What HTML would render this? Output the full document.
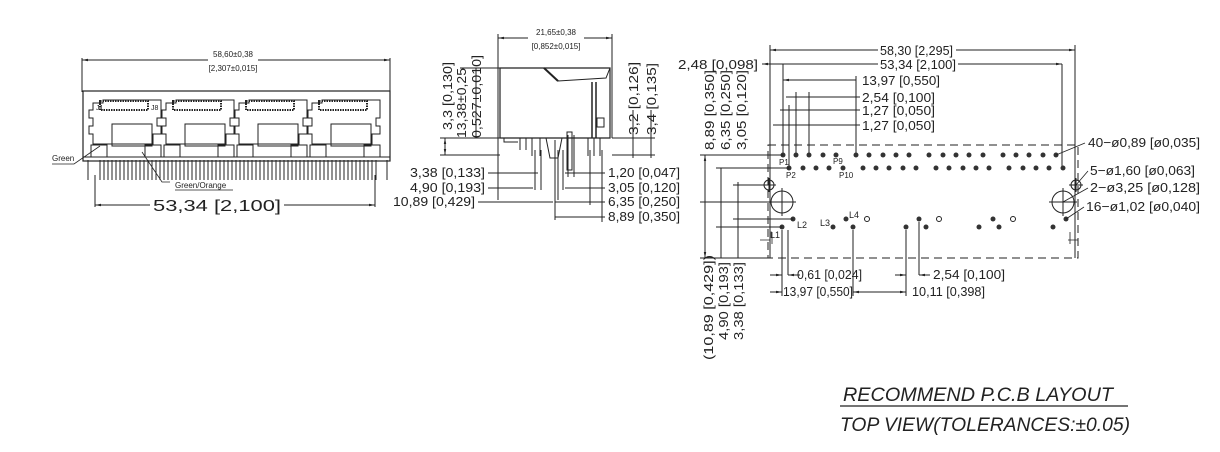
<!DOCTYPE html>
<html><head><meta charset="utf-8"><style>
html,body{margin:0;padding:0;background:#fff;}
svg{display:block;}
text{font-family:"Liberation Sans",sans-serif;fill:#222;}
.d{font-size:13px;}
.s{font-size:8px;}
</style></head><body>
<svg width="1220" height="452" viewBox="0 0 1220 452" xmlns="http://www.w3.org/2000/svg" stroke="#222" fill="none" stroke-width="1">
<defs>
<marker id="a" viewBox="0 0 10 10" refX="10" refY="5" markerWidth="6" markerHeight="6" orient="auto-start-reverse"><path d="M0,3 L10,5 L0,7z" fill="#222" stroke="none"/></marker>
</defs>
<!-- LEFT VIEW -->
<line x1="82" y1="58" x2="82" y2="92"/><line x1="390" y1="58" x2="390" y2="92"/>
<line x1="82" y1="60" x2="208" y2="60" marker-start="url(#a)"/><line x1="258" y1="60" x2="390" y2="60" marker-end="url(#a)"/>
<text class="s" x="233" y="57" text-anchor="middle" stroke="none">58,60±0,38</text>
<text class="s" x="233" y="71" text-anchor="middle" stroke="none">[2,307±0,015]</text>
<rect x="83" y="91" width="307" height="70" stroke-width="1.2"/>
<g stroke-width="1">
<g id="jack">
<path d="M93,103 h10 v-3 h58 v3 h0 v15 h-4 v8 h4 v8 h-8 v10 h-60 v-10 h-4 v-8 h4 v-8 h-4 v-8 h4z"/>
<rect x="112" y="124" width="40" height="22"/>
<rect x="100" y="101" width="48" height="9" stroke-width="2" stroke-dasharray="1.5,1"/>
<rect x="91" y="145" width="16" height="12"/><rect x="145" y="145" width="16" height="12"/>
</g>
<use href="#jack" x="73"/><use href="#jack" x="146"/><use href="#jack" x="219"/>
</g>
<text x="96" y="110" stroke="none" font-size="7">J1</text><text x="151" y="110" stroke="none" font-size="7">J8</text>
<path d="M83,157 h307" />
<g stroke-width="1">
<path d="M88,160 v20 M387,160 v20"/>
<path d="M100,160 v20 M104,160 v20 M108,160 v20 M112,160 v20 M116,160 v20 M120,160 v20 M124,160 v20 M128,160 v20 M132,160 v20 M136,160 v20 M140,160 v20 M144,160 v20 M148,160 v20 M152,160 v20 M156,160 v20 M160,160 v20 M164,160 v20 M168,160 v20 M172,160 v20 M176,160 v20 M180,160 v20 M184,160 v20 M188,160 v20 M192,160 v20 M196,160 v20 M200,160 v20 M204,160 v20 M208,160 v20 M212,160 v20 M216,160 v20 M220,160 v20 M224,160 v20 M228,160 v20 M232,160 v20 M236,160 v20 M240,160 v20 M244,160 v20 M248,160 v20 M252,160 v20 M256,160 v20 M260,160 v20 M264,160 v20 M268,160 v20 M272,160 v20 M276,160 v20 M280,160 v20 M284,160 v20 M288,160 v20 M292,160 v20 M296,160 v20 M300,160 v20 M304,160 v20 M308,160 v20 M312,160 v20 M316,160 v20 M320,160 v20 M324,160 v20 M328,160 v20 M332,160 v20 M336,160 v20 M340,160 v20 M344,160 v20 M348,160 v20 M352,160 v20 M356,160 v20 M360,160 v20 M364,160 v20 M368,160 v20 M372,160 v20 M376,160 v20"/>
</g>
<line x1="95" y1="175" x2="95" y2="207"/><line x1="375" y1="175" x2="375" y2="207"/>
<line x1="95" y1="205" x2="150" y2="205" marker-start="url(#a)"/><line x1="284" y1="205" x2="375" y2="205" marker-end="url(#a)"/>
<text x="153" y="211" stroke="none" font-size="16" textLength="128" lengthAdjust="spacingAndGlyphs">53,34 [2,100]</text>
<path d="M52,164 h22 l26,-18" stroke-width="0.8"/><text x="52" y="161" stroke="none" font-size="8">Green</text>
<path d="M170,182 h-8 l-20,-30" stroke-width="0.8"/><text x="175" y="188" stroke="none" font-size="8">Green/Orange</text>
<line x1="175" y1="190" x2="233" y2="190" stroke-width="0.8"/>

<!-- MIDDLE VIEW -->
<line x1="498" y1="34" x2="498" y2="200"/><line x1="612" y1="34" x2="612" y2="138"/>
<line x1="498" y1="38" x2="528" y2="38" marker-start="url(#a)"/><line x1="584" y1="38" x2="612" y2="38" marker-end="url(#a)"/>
<text class="s" x="556" y="35" text-anchor="middle" stroke="none">21,65±0,38</text>
<text class="s" x="556" y="49" text-anchor="middle" stroke="none">[0,852±0,015]</text>
<path d="M500,68 h110 v70 h-110z" stroke-width="1.2"/>
<path d="M500,68 l44,0 l14,13 l48,-3 l4,-10" />
<path d="M544,68 l14,13" stroke-width="2"/>
<path d="M592,82 v56 M596,82 v56" stroke-width="1.5"/>
<rect x="597" y="118" width="7" height="9"/>
<path d="M504,138 v4 h14 M520,138 v12 M526,138 v12 M532,138 v18 M540,138 v18 M546,138 l4,20 h8 l4,-20 M568,135 v42 M574,135 v42 M588,138 v18 M594,138 v18 M600,138 v18"/>
<rect x="567" y="132" width="5" height="38" stroke-width="1"/>
<line x1="440" y1="138" x2="500" y2="138"/><line x1="440" y1="155" x2="500" y2="155"/>
<line x1="460" y1="68" x2="500" y2="68"/>
<line x1="445" y1="138" x2="445" y2="155" marker-start="url(#a)" marker-end="url(#a)"/>
<g stroke="none" class="d">
<text transform="translate(452,130) rotate(-90)" textLength="68" lengthAdjust="spacingAndGlyphs">3,3 [0,130]</text>
<text transform="translate(466,138) rotate(-90)" textLength="70" lengthAdjust="spacingAndGlyphs">13,38±0,25</text>
<text transform="translate(481,138) rotate(-90)" textLength="83" lengthAdjust="spacingAndGlyphs">0,527±0,010]</text>
</g>
<line x1="476" y1="68" x2="476" y2="138"/>
<line x1="612" y1="138" x2="655" y2="138"/><line x1="612" y1="155" x2="655" y2="155"/>
<line x1="633" y1="110" x2="633" y2="158" /><line x1="651" y1="110" x2="651" y2="158"/>
<g stroke="none" class="d">
<text transform="translate(638,135) rotate(-90)" textLength="73" lengthAdjust="spacingAndGlyphs">3,2 [0,126]</text>
<text transform="translate(656,135) rotate(-90)" textLength="72" lengthAdjust="spacingAndGlyphs">3,4 [0,135]</text>
</g>
<line x1="535" y1="150" x2="535" y2="190"/><line x1="541" y1="150" x2="541" y2="190"/><line x1="555" y1="140" x2="555" y2="220"/><line x1="558" y1="150" x2="558" y2="200"/><line x1="563" y1="150" x2="563" y2="190"/><line x1="590" y1="150" x2="590" y2="205"/><line x1="602" y1="150" x2="602" y2="222"/>
<g stroke="none" class="d">
<text x="410" y="177" textLength="75" lengthAdjust="spacingAndGlyphs">3,38 [0,133]</text>
<text x="410" y="192" textLength="75" lengthAdjust="spacingAndGlyphs">4,90 [0,193]</text>
<text x="393" y="206" textLength="82" lengthAdjust="spacingAndGlyphs">10,89 [0,429]</text>
<text x="608" y="177" textLength="72" lengthAdjust="spacingAndGlyphs">1,20 [0,047]</text>
<text x="608" y="192" textLength="72" lengthAdjust="spacingAndGlyphs">3,05 [0,120]</text>
<text x="608" y="206" textLength="72" lengthAdjust="spacingAndGlyphs">6,35 [0,250]</text>
<text x="608" y="221" textLength="72" lengthAdjust="spacingAndGlyphs">8,89 [0,350]</text>
</g>
<path d="M488,173 h50 M488,188 h45 M478,202 h75 M605,173 h-40 M605,188 h-40 M605,202 h-50 M605,217 h-50"/>

<!-- RIGHT VIEW -->
<rect x="768" y="145" width="310" height="113" stroke-dasharray="8,5"/>
<line x1="770" y1="45" x2="770" y2="258"/><line x1="1075" y1="45" x2="1075" y2="258"/>
<line x1="770" y1="50" x2="878" y2="50" marker-start="url(#a)"/><line x1="956" y1="50" x2="1075" y2="50" marker-end="url(#a)"/>
<text class="d" x="880" y="55" stroke="none" textLength="73" lengthAdjust="spacingAndGlyphs">58,30 [2,295]</text>
<text class="d" x="678" y="69" stroke="none" textLength="80" lengthAdjust="spacingAndGlyphs">2,48 [0,098]</text>
<line x1="762" y1="64" x2="878" y2="64" marker-start="url(#a)"/><line x1="958" y1="64" x2="1062" y2="64" marker-end="url(#a)"/>
<text class="d" x="880" y="69" stroke="none" textLength="76" lengthAdjust="spacingAndGlyphs">53,34 [2,100]</text>
<line x1="783" y1="64" x2="783" y2="155"/><line x1="1062" y1="64" x2="1062" y2="168"/>
<line x1="783" y1="80" x2="856" y2="80" marker-start="url(#a)"/><line x1="856" y1="76" x2="856" y2="155"/>
<text class="d" x="862" y="85" stroke="none" textLength="78" lengthAdjust="spacingAndGlyphs">13,97 [0,550]</text>
<line x1="786" y1="97" x2="860" y2="97"/><line x1="796" y1="92" x2="796" y2="155"/><line x1="809" y1="92" x2="809" y2="155"/>
<text class="d" x="862" y="102" stroke="none" textLength="73" lengthAdjust="spacingAndGlyphs">2,54 [0,100]</text>
<line x1="780" y1="110" x2="860" y2="110"/><line x1="789" y1="105" x2="789" y2="168"/>
<text class="d" x="862" y="115" stroke="none" textLength="73" lengthAdjust="spacingAndGlyphs">1,27 [0,050]</text>
<line x1="773" y1="125" x2="860" y2="125"/>
<text class="d" x="862" y="130" stroke="none" textLength="73" lengthAdjust="spacingAndGlyphs">1,27 [0,050]</text>
<g fill="#333" stroke="none">
<circle cx="783" cy="155" r="2.5"/><circle cx="796" cy="155" r="2.5"/><circle cx="809" cy="155" r="2.5"/><circle cx="823" cy="155" r="2.5"/><circle cx="836" cy="155" r="2.5"/><circle cx="856" cy="155" r="2.5"/><circle cx="869" cy="155" r="2.5"/><circle cx="883" cy="155" r="2.5"/><circle cx="896" cy="155" r="2.5"/><circle cx="909" cy="155" r="2.5"/><circle cx="929" cy="155" r="2.5"/><circle cx="943" cy="155" r="2.5"/><circle cx="956" cy="155" r="2.5"/><circle cx="969" cy="155" r="2.5"/><circle cx="983" cy="155" r="2.5"/><circle cx="1003" cy="155" r="2.5"/><circle cx="1016" cy="155" r="2.5"/><circle cx="1029" cy="155" r="2.5"/><circle cx="1043" cy="155" r="2.5"/><circle cx="1056" cy="155" r="2.5"/>
<circle cx="789" cy="168" r="2.5"/><circle cx="803" cy="168" r="2.5"/><circle cx="816" cy="168" r="2.5"/><circle cx="829" cy="168" r="2.5"/><circle cx="843" cy="168" r="2.5"/><circle cx="863" cy="168" r="2.5"/><circle cx="876" cy="168" r="2.5"/><circle cx="889" cy="168" r="2.5"/><circle cx="903" cy="168" r="2.5"/><circle cx="916" cy="168" r="2.5"/><circle cx="936" cy="168" r="2.5"/><circle cx="949" cy="168" r="2.5"/><circle cx="963" cy="168" r="2.5"/><circle cx="976" cy="168" r="2.5"/><circle cx="989" cy="168" r="2.5"/><circle cx="1009" cy="168" r="2.5"/><circle cx="1023" cy="168" r="2.5"/><circle cx="1036" cy="168" r="2.5"/><circle cx="1049" cy="168" r="2.5"/><circle cx="1063" cy="168" r="2.5"/>
<circle cx="793" cy="219" r="2.5"/><circle cx="782" cy="227" r="2.5"/><circle cx="833" cy="227" r="2.5"/><circle cx="846" cy="219" r="2.5"/><circle cx="853" cy="227" r="2.5"/><circle cx="906" cy="227" r="2.5"/><circle cx="919" cy="219" r="2.5"/><circle cx="926" cy="227" r="2.5"/><circle cx="979" cy="227" r="2.5"/><circle cx="993" cy="219" r="2.5"/><circle cx="999" cy="227" r="2.5"/><circle cx="1053" cy="227" r="2.5"/><circle cx="1066" cy="219" r="2.5"/>
</g>
<circle cx="867" cy="219" r="2.5"/><circle cx="939" cy="219" r="2.5"/><circle cx="1013" cy="219" r="2.5"/>
<circle cx="769" cy="185" r="5"/><circle cx="1076" cy="185" r="5"/>
<path d="M762,185 h14 M769,178 v14 M1069,185 h14 M1076,178 v14"/>
<circle cx="782" cy="202" r="11"/><circle cx="1063" cy="202" r="11"/>
<path d="M768,202 h28 M782,188 v28 M1049,202 h28 M1063,188 v28"/>
<g stroke="none" font-size="8" fill="#666">
<text x="779" y="165">P1</text><text x="786" y="178">P2</text><text x="833" y="164">P9</text><text x="839" y="178">P10</text>
</g>
<g stroke="none" font-size="9">
<text x="797" y="228">L2</text><text x="770" y="238">L1</text><text x="820" y="226">L3</text><text x="849" y="218">L4</text>
</g>
<path d="M1085,143 l-29,12 M1088,171 l-12,14 M1088,188 l-25,14 M1084,207 l-18,12" stroke-width="0.8"/>
<g class="d" stroke="none">
<text x="1088" y="147" textLength="112" lengthAdjust="spacingAndGlyphs">40−ø0,89 [ø0,035]</text>
<text x="1090" y="175" textLength="105" lengthAdjust="spacingAndGlyphs">5−ø1,60 [ø0,063]</text>
<text x="1090" y="192" textLength="110" lengthAdjust="spacingAndGlyphs">2−ø3,25 [ø0,128]</text>
<text x="1086" y="211" textLength="114" lengthAdjust="spacingAndGlyphs">16−ø1,02 [ø0,040]</text>
</g>
<!-- left vertical dims right view -->
<line x1="705" y1="155" x2="705" y2="258" marker-start="url(#a)" marker-end="url(#a)"/>
<line x1="721" y1="168" x2="721" y2="258"/><line x1="738" y1="182" x2="738" y2="258"/>
<path d="M700,155 h83 M716,168 h73 M733,185 h36 M700,202 h68 M733,219 h60 M716,227 h66 M700,258 h68"/>
<g class="d" stroke="none">
<text transform="translate(714,150) rotate(-90)" textLength="80" lengthAdjust="spacingAndGlyphs">8,89 [0,350]</text>
<text transform="translate(730,150) rotate(-90)" textLength="80" lengthAdjust="spacingAndGlyphs">6,35 [0,250]</text>
<text transform="translate(746,150) rotate(-90)" textLength="80" lengthAdjust="spacingAndGlyphs">3,05 [0,120]</text>
<text transform="translate(713,360) rotate(-90)" textLength="105" lengthAdjust="spacingAndGlyphs">(10,89 [0,429])</text>
<text transform="translate(728,340) rotate(-90)" textLength="78" lengthAdjust="spacingAndGlyphs">4,90 [0,193]</text>
<text transform="translate(743,340) rotate(-90)" textLength="78" lengthAdjust="spacingAndGlyphs">3,38 [0,133]</text>
</g>
<line x1="782" y1="230" x2="782" y2="296"/><line x1="788" y1="230" x2="788" y2="275"/>
<line x1="770" y1="275" x2="782" y2="275" marker-end="url(#a)"/><line x1="800" y1="275" x2="788" y2="275" marker-end="url(#a)"/>
<text class="d" x="797" y="279" stroke="none" textLength="65" lengthAdjust="spacingAndGlyphs">0,61 [0,024]</text>
<line x1="906" y1="230" x2="906" y2="296"/><line x1="919" y1="222" x2="919" y2="275"/>
<line x1="895" y1="275" x2="906" y2="275" marker-end="url(#a)"/><line x1="930" y1="275" x2="919" y2="275" marker-end="url(#a)"/>
<text class="d" x="933" y="279" stroke="none" textLength="72" lengthAdjust="spacingAndGlyphs">2,54 [0,100]</text>
<line x1="853" y1="230" x2="853" y2="296"/>
<line x1="770" y1="292" x2="782" y2="292" marker-end="url(#a)"/>
<text class="d" x="783" y="296" stroke="none" textLength="70" lengthAdjust="spacingAndGlyphs">13,97 [0,550]</text>
<line x1="853" y1="292" x2="906" y2="292" marker-start="url(#a)" marker-end="url(#a)"/>
<text class="d" x="912" y="296" stroke="none" textLength="73" lengthAdjust="spacingAndGlyphs">10,11 [0,398]</text>
<path d="M760,240 h10 M1068,240 h10 M772,232 v12 M1070,232 v12" stroke-width="0.8"/>

<!-- Title -->
<text x="843" y="401" stroke="none" font-size="19" font-style="italic" textLength="270" lengthAdjust="spacingAndGlyphs">RECOMMEND P.C.B LAYOUT</text>
<line x1="840" y1="406" x2="1128" y2="406" stroke-width="1.3"/>
<text x="840" y="431" stroke="none" font-size="19" font-style="italic" textLength="290" lengthAdjust="spacingAndGlyphs">TOP VIEW(TOLERANCES:±0.05)</text>
</svg>
</body></html>
